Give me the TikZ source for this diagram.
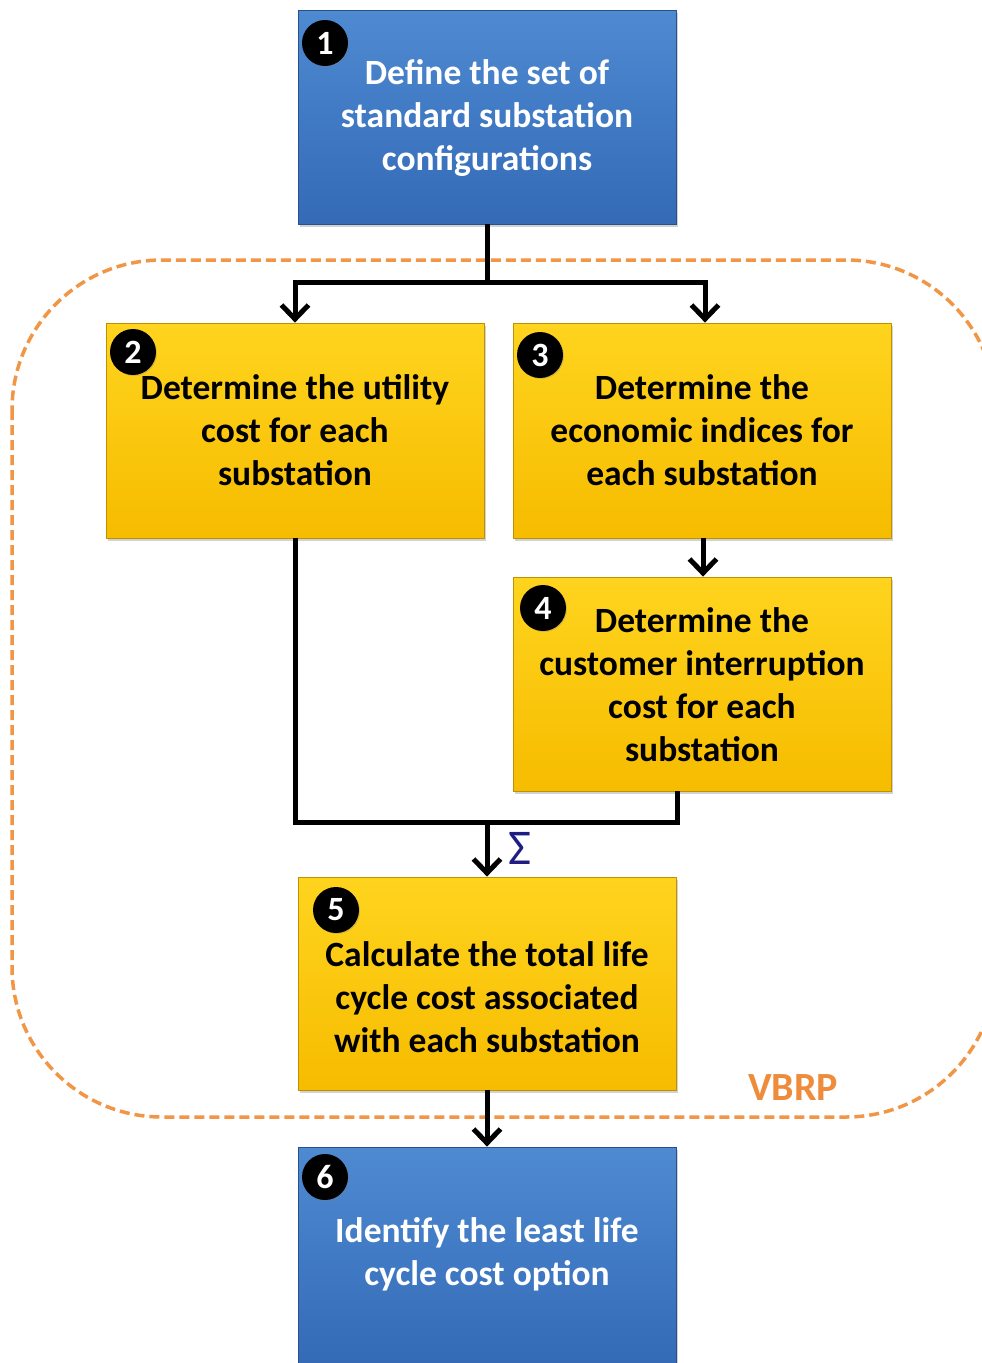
\documentclass[tikz,border=0pt]{standalone}
\usepackage{fontspec}
\setmainfont{Carlito}
\usetikzlibrary{arrows.meta,shadows,calc}
\definecolor{bluetop}{RGB}{78,138,210}
\definecolor{bluebot}{RGB}{52,106,182}
\definecolor{blueedge}{RGB}{40,80,140}
\definecolor{yeltop}{RGB}{255,212,30}
\definecolor{yelbot}{RGB}{246,188,0}
\definecolor{yeledge}{RGB}{190,145,0}
\definecolor{dashorange}{RGB}{240,150,70}
\definecolor{vbrp}{RGB}{238,140,60}
\definecolor{sigma}{RGB}{30,30,130}
\tikzset{
  boxbase/.style={rectangle, minimum width=378pt, inner sep=0pt,
    drop shadow={shadow xshift=2pt, shadow yshift=-3pt, opacity=0.35}},
  bluebox/.style={boxbase, top color=bluetop, bottom color=bluebot, draw=blueedge, line width=0.8pt},
  yelbox/.style={boxbase, top color=yeltop, bottom color=yelbot, draw=yeledge, line width=0.8pt},
  whitetext/.style={align=center, text=white, font=\bfseries\fontsize{35.5}{43}\selectfont},
  blacktext/.style={align=center, text=black, font=\bfseries\fontsize{35.5}{43}\selectfont},
  numdot/.style={circle, fill=black, minimum size=46pt, inner sep=0pt, text=white,
    font=\bfseries\fontsize{34}{34}\selectfont,
    drop shadow={shadow xshift=1pt, shadow yshift=-1pt, opacity=0.3}},
  conn/.style={line width=5pt, black},
  arr/.style={conn, -{Straight Barb[length=14pt,width=27pt]}},
  vbrpbox/.style={dashorange, line width=3.5pt, dash pattern=on 10pt off 5pt, rounded corners=150pt}
}
\begin{document}
\begin{tikzpicture}[x=1pt,y=-1pt]
\useasboundingbox (0,0) rectangle (982,1363);
\fill[white] (0,0) rectangle (982,1363);
% dashed VBRP region
\draw[vbrpbox] (12,260) rectangle (996,1117);
\node[text=vbrp, font=\bfseries\fontsize{40}{40}\selectfont] (vl) at (793,1088) {VBRP};
% boxes
\node[bluebox, minimum height=214pt] (b1) at (487,117) {};
\node[yelbox, minimum height=215pt] (b2) at (295,430.5) {};
\node[yelbox, minimum height=215pt] (b3) at (702,430.5) {};
\node[yelbox, minimum height=214pt] (b4) at (702,684) {};
\node[yelbox, minimum height=213pt] (b5) at (487,983.5) {};
\node[bluebox, minimum height=218pt] (b6) at (487,1256) {};
% texts
\node[whitetext] (t1) at (487,118) {Define the set of\\standard substation\\configurations};
\node[blacktext] (t2) at (295,430) {Determine the utility\\cost for each\\substation};
\node[blacktext] (t3) at (702,430) {Determine the\\economic indices for\\each substation};
\node[blacktext] (t4) at (702,684.5) {Determine the\\customer interruption\\cost for each\\substation};
\node[blacktext] (t5) at (487,997) {Calculate the total life\\cycle cost associated\\with each substation};
\node[whitetext] (t6) at (487,1254.5) {Identify the least life\\cycle cost option};
% number dots
\node[numdot] (c1) at (325,43) {1};
\node[numdot] (c2) at (133,352) {2};
\node[numdot] (c3) at (540,355) {3};
\node[numdot] (c4) at (543,608) {4};
\node[numdot] (c5) at (336,910) {5};
\node[numdot] (c6) at (325,1177) {6};
% connectors
\coordinate (j1) at (487,282);
\coordinate (j2) at (487,822);
\draw[conn] (b1.south) -- (j1);
\draw[arr] (j1) -| (b2.north);
\draw[arr] (j1) -| ([xshift=3pt]b3.north);
\draw[arr] ([xshift=1pt]b3.south) -- ([xshift=1pt]b4.north);
\draw[conn] (b2.south) |- (j2) -| ([xshift=-25pt]b4.south);
\draw[arr] (j2) -- (b5.north);
\node[text=sigma, font=\fontsize{50}{50}\selectfont] (sg) at (520,848) {Σ};
\draw[arr] (b5.south) -- (b6.north);
\end{tikzpicture}
\end{document}
